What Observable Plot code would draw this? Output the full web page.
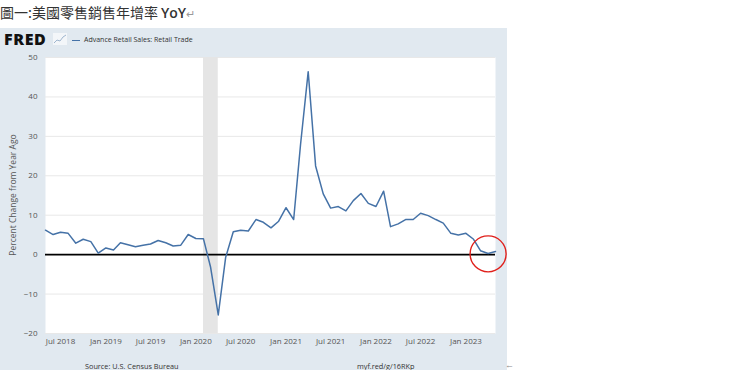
<!DOCTYPE html>
<html><head><meta charset="utf-8">
<script src="https://cdn.jsdelivr.net/npm/d3@7"></script>
<script src="https://cdn.jsdelivr.net/npm/@observablehq/plot@0.6"></script>
<style>
body{margin:0;background:#fff;width:740px;height:370px;position:relative;overflow:hidden;font-family:"Open Sans",sans-serif;}
#title{position:absolute;left:0;top:2px;font-family:"Noto Sans CJK TC",sans-serif;font-size:14px;color:#333;white-space:nowrap;}
#title .en{font-family:"Open Sans",sans-serif;font-weight:600;}
#title .ret{color:#999;font-size:11px;}
#panel{position:absolute;left:0;top:28px;width:507px;height:342px;background:#e1e9f0;}
#logo{position:absolute;left:4px;top:3px;line-height:16px;font-family:"Open Sans",sans-serif;font-weight:800;font-size:16px;letter-spacing:0.6px;color:#111;}
#icon{position:absolute;left:53px;top:5px;}
#legend{position:absolute;left:72px;top:7px;line-height:10px;font-size:7px;color:#333;white-space:nowrap;}
#legend .sw{display:inline-block;width:8px;height:0;border-top:1.5px solid #4572a7;vertical-align:middle;margin-right:4px;}
#chart{position:absolute;left:0;top:22px;}
#ylab{position:absolute;left:12px;top:167px;transform:translate(-50%,-50%) rotate(-90deg);font-size:8.5px;color:#555;white-space:nowrap;}
.foot{position:absolute;top:333px;line-height:10px;font-size:7.3px;color:#333;white-space:nowrap;}
#arrow{position:absolute;left:505px;top:360px;line-height:10px;font-size:9px;color:#888;}
</style></head>
<body>
<div id="title">圖一:美國零售銷售年增率 <span class="en">YoY</span><span class="ret">↵</span></div>
<div id="panel">
  <div id="logo">FRED</div>
  <svg id="icon" width="14" height="12"><rect x="0" y="0" width="14" height="12" fill="#f3f6f9"/><polyline points="1,10 4,7 7,8 10,4 13,2" fill="none" stroke="#9fb6cf" stroke-width="1"/></svg>
  <div id="legend"><span class="sw"></span>Advance Retail Sales: Retail Trade</div>
  <div id="chart"></div>
  <div id="ylab">Percent Change from Year Ago</div>
  <div class="foot" style="left:85px">Source: U.S. Census Bureau</div>
  <div class="foot" style="left:357px">myf.red/g/16RKp</div>
</div>
<div id="arrow">←</div>
<script>
const months = [
 "2018-05","2018-06","2018-07","2018-08","2018-09","2018-10","2018-11","2018-12",
 "2019-01","2019-02","2019-03","2019-04","2019-05","2019-06","2019-07","2019-08","2019-09","2019-10","2019-11","2019-12",
 "2020-01","2020-02","2020-03","2020-04","2020-05","2020-06","2020-07","2020-08","2020-09","2020-10","2020-11","2020-12",
 "2021-01","2021-02","2021-03","2021-04","2021-05","2021-06","2021-07","2021-08","2021-09","2021-10","2021-11","2021-12",
 "2022-01","2022-02","2022-03","2022-04","2022-05","2022-06","2022-07","2022-08","2022-09","2022-10","2022-11","2022-12",
 "2023-01","2023-02","2023-03","2023-04","2023-05"];
const yoy = [
 6.2,5.1,5.7,5.4,2.9,3.9,3.3,0.4,
 1.7,1.2,3.0,2.5,2.0,2.4,2.7,3.6,3.0,2.2,2.4,5.1,
 4.1,4.0,-3.2,-15.3,-0.7,5.8,6.2,6.0,8.9,8.2,6.8,8.4,
 11.9,8.9,28.0,46.4,22.5,15.4,11.8,12.2,11.1,13.7,15.5,13.0,
 12.2,16.1,7.1,7.8,8.9,8.9,10.5,9.9,8.9,8.0,5.4,5.0,
 5.4,3.9,1.0,0.3,0.8];
const recession = [{start:"2020-02", end:"2020-04"}];
const xTickLabels = ["2018-07","2019-01","2019-07","2020-01","2020-07","2021-01","2021-07","2022-01","2022-07","2023-01"];
const yTicks = [-20,-10,0,10,20,30,40,50];
const highlight = [{month:"2023-04", value:0.2}];

const parse = d3.utcParse("%Y-%m");
const data = months.map((m,i)=>({date:parse(m), value:yoy[i]}));
const rec = recession.map(r=>({x1:parse(r.start), x2:parse(r.end)}));
const hl = highlight.map(h=>({date:parse(h.month), value:h.value}));

const chart = Plot.plot({
  width:507, height:300,
  marginLeft:45, marginRight:12, marginTop:7, marginBottom:17,
  style:{fontFamily:"Open Sans, sans-serif", fontSize:"8px", color:"#555", background:"transparent", overflow:"visible"},
  x:{type:"utc", domain:[parse(months[0]), parse(months[months.length-1])]},
  y:{domain:[-20,50]},
  marks:[
    Plot.frame({fill:"white", stroke:null}),
    Plot.gridY(yTicks, {stroke:"#e8e8e8", strokeOpacity:1, strokeWidth:1}),
    Plot.rect(rec, {x1:"x1", x2:"x2", fill:"#e5e5e5"}),
    Plot.ruleY([0], {stroke:"#000", strokeWidth:1.6}),
    Plot.line(data, {x:"date", y:"value", stroke:"#4572a7", strokeWidth:1.5}),
    Plot.axisY(yTicks, {tickSize:0, tickPadding:8, label:null}),
    Plot.axisX(xTickLabels.map(parse), {tickSize:0, tickPadding:5, tickFormat:d3.utcFormat("%b %Y"), label:null}),
    Plot.dot(hl, {x:"date", y:"value", r:18, stroke:"#e0201b", strokeWidth:1.4, fill:"none"})
  ]
});
document.getElementById("chart").appendChild(chart);
</script>
</body></html>
